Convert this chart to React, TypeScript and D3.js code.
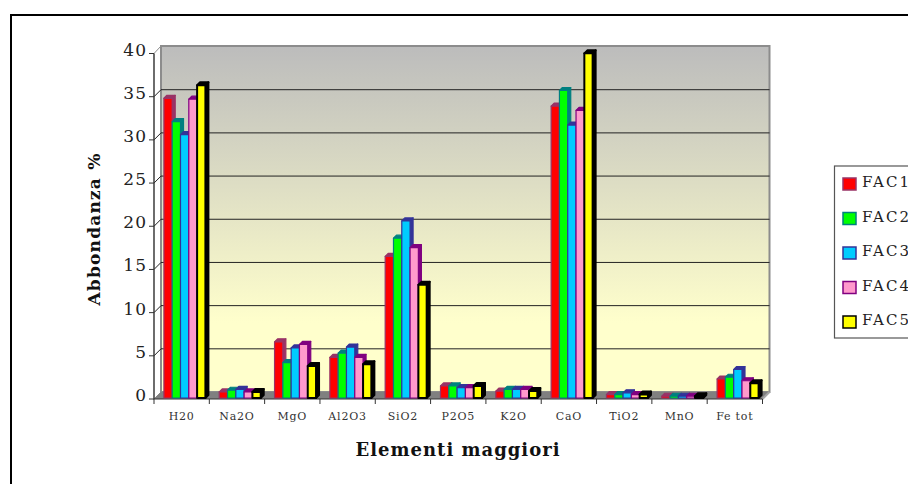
import React from "react";
import * as d3 from "d3";

const categories = ["H20", "Na2O", "MgO", "Al2O3", "SiO2", "P2O5", "K2O", "CaO", "TiO2", "MnO", "Fe tot"];
const seriesNames = ["FAC1", "FAC2", "FAC3", "FAC4", "FAC5"];
const fac1 = [34.7, 0.7, 6.5, 4.7, 16.4, 1.4, 0.8, 33.8, 0.4, 0.2, 2.2];
const fac2 = [32.0, 0.9, 4.1, 5.2, 18.5, 1.4, 1.0, 35.6, 0.4, 0.2, 2.4];
const fac3 = [30.5, 1.0, 5.8, 5.9, 20.5, 1.2, 1.0, 31.6, 0.6, 0.2, 3.3];
const fac4 = [34.6, 0.7, 6.2, 4.7, 17.4, 1.2, 1.0, 33.3, 0.4, 0.2, 2.0];
const fac5 = [36.2, 0.7, 3.7, 3.9, 13.1, 1.4, 0.8, 39.9, 0.4, 0.2, 1.7];
const seriesValues = [fac1, fac2, fac3, fac4, fac5];
const fills = ["#ff0000", "#00ff00", "#00ccff", "#ff99cc", "#ffff00"];
const strokes = ["#993366", "#008080", "#333399", "#800080", "#000000"];
const yTicks = [0, 5, 10, 15, 20, 25, 30, 35, 40];

const FONT = "'DejaVu Serif', serif";
const left = 154, right = 762.5, bottom = 399, top = 53.5;
const wallD = 7;

export default function App() {
  const x = d3.scaleBand<string>().domain(categories).range([left, right]);
  const y = d3.scaleLinear().domain([0, 40]).range([bottom, top]);
  const bw = 8.3;
  const groupPad = (x.bandwidth() - bw * 5) / 2;
  const barDx = 3, barDy = -1, depth = 3;
  const wallTop = 46;
  const wallPath = `M${left + wallD},${wallTop}H${right + wallD}V${bottom - wallD}H${left + wallD}Z`;
  const floor = `M${left},${bottom}L${left + wallD},${bottom - wallD}H${right + wallD}L${right},${bottom}Z`;
  const sideWall = `M${left},${bottom}L${left + wallD},${bottom - wallD}V${wallTop}L${left},${top}Z`;
  return (
    <svg width={908} height={484} style={{ position: "fixed", left: 0, top: 0, background: "#fff" }} fontFamily={FONT}>
      <defs>
        <linearGradient id="wall" x1="0" y1="0" x2="0" y2="1">
          <stop offset="0" stopColor="#bcbcbc" />
          <stop offset="0.8" stopColor="#ffffcc" />
          <stop offset="1" stopColor="#ffffcc" />
        </linearGradient>
      </defs>
      <path d="M11,484V15H908" fill="none" stroke="#000" strokeWidth={2} />
      <path d={sideWall} fill="#fff" stroke="#8c8c8c" strokeWidth={1} />
      <path d={wallPath} fill="url(#wall)" stroke="#8c8c8c" strokeWidth={2} />
      <path d={floor} fill="#808080" />
      <path d={`M${right + wallD},${bottom - wallD}L${right},${bottom}`} stroke="#a6a6a6" strokeWidth={2} />
      {yTicks.slice(1, -1).map((t) => (
        <path key={t} d={`M${left},${y(t)}L${left + wallD},${y(t) - wallD}H${right + wallD}`} fill="none" stroke="#222" strokeWidth={1} />
      ))}
      <path d={`M${left},${top}V${bottom}H${right}`} fill="none" stroke="#333" strokeWidth={1.2} />
      {yTicks.map((t) => (
        <g key={t}>
          <line x1={left - 5} x2={left} y1={y(t)} y2={y(t)} stroke="#333" />
          <text x={left - 7} y={y(t) + 2} textAnchor="end" fontSize={17} letterSpacing={1} fill="#222">{t}</text>
        </g>
      ))}
      {categories.map((c) => (
        <g key={c}>
          <line x1={x(c)!} x2={x(c)!} y1={bottom} y2={bottom + 5} stroke="#333" />
          <text x={x(c)! + x.bandwidth() / 2} y={420} textAnchor="middle" fontSize={11} letterSpacing={0.8} fill="#333">{c}</text>
        </g>
      ))}
      <line x1={right} x2={right} y1={bottom} y2={bottom + 5} stroke="#333" />
      {categories.map((c, ci) =>
        seriesValues.map((vals, si) => {
          const x0 = x(c)! + groupPad + barDx + si * bw;
          const yT = y(vals[ci]) + barDy;
          const yB = bottom + barDy;
          const sw = si === 4 ? 2 : 1.2;
          return (
            <g key={si} stroke={strokes[si]} strokeWidth={sw} strokeLinejoin="round">
              <path d={`M${x0 + bw},${yB}L${x0 + bw + depth},${yB - depth}V${yT - depth}L${x0 + bw},${yT}Z`} fill={strokes[si]} />
              <path d={`M${x0},${yT}L${x0 + depth},${yT - depth}H${x0 + bw + depth}L${x0 + bw},${yT}Z`} fill={strokes[si]} />
              <rect x={x0} y={yT} width={bw} height={yB - yT} fill={fills[si]} />
            </g>
          );
        })
      )}
      <text x={458} y={456} textAnchor="middle" fontSize={18} fontWeight="bold" letterSpacing={1} fill="#111">Elementi maggiori</text>
      <text transform="translate(100,229) rotate(-90)" textAnchor="middle" fontSize={17} fontWeight="bold" letterSpacing={1.2} fill="#111">Abbondanza %</text>
      <rect x={834.5} y={166} width={90} height={172} fill="#fff" stroke="#555" strokeWidth={1.2} />
      {seriesNames.map((s, i) => {
        const cy = 184 + i * 34.5;
        return (
          <g key={s}>
            <rect x={843} y={cy - 6} width={13} height={12} fill={fills[i]} stroke={strokes[i]} strokeWidth={1.5} />
            <text x={862} y={cy + 3} fontSize={15} letterSpacing={2} fill="#222">{s}</text>
          </g>
        );
      })}
    </svg>
  );
}
